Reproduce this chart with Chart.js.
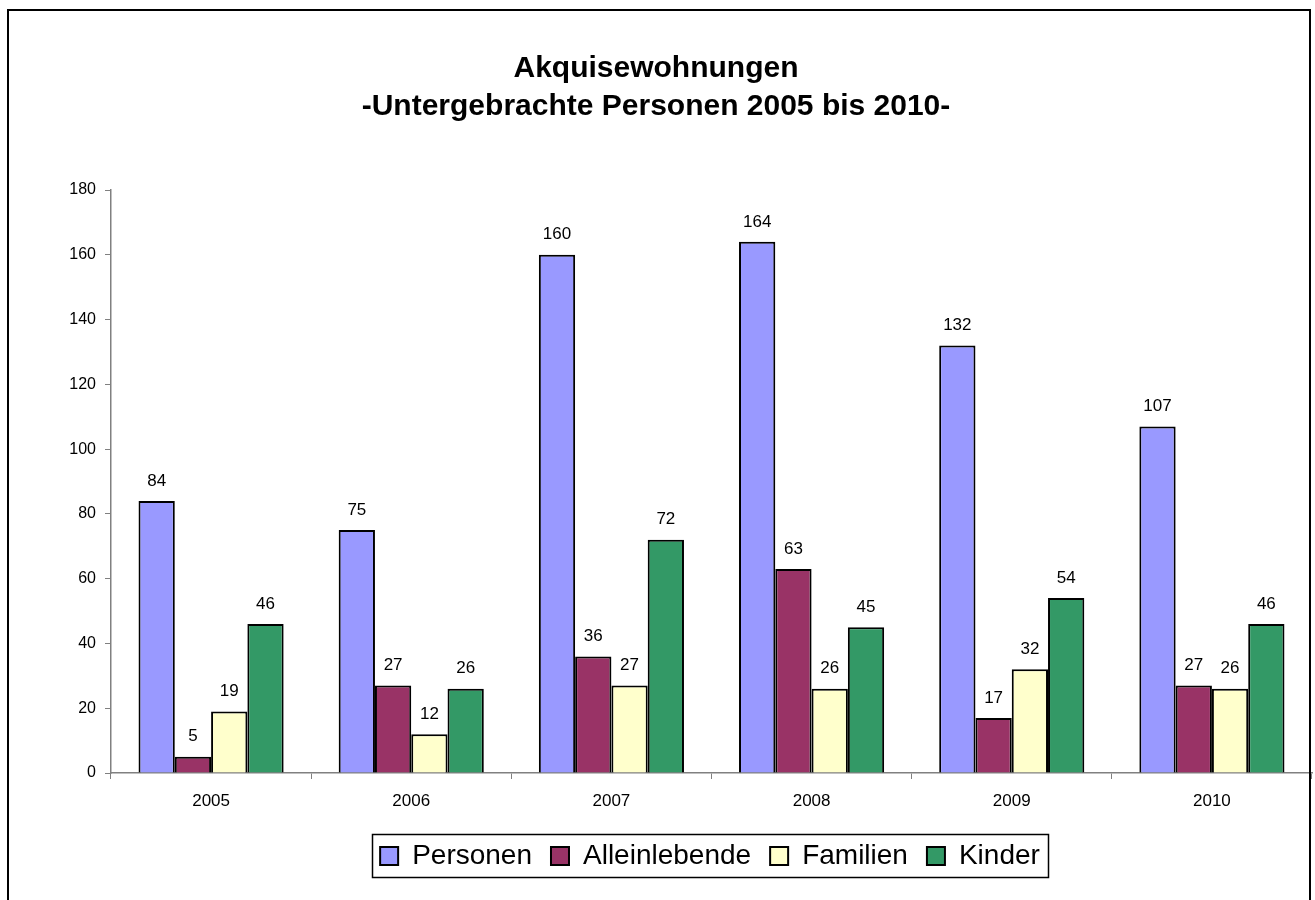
<!DOCTYPE html>
<html>
<head>
<meta charset="utf-8">
<script src="https://cdn.jsdelivr.net/npm/chart.js@4.4.0/dist/chart.umd.min.js"></script>
<style>
  html, body { margin: 0; padding: 0; background: #fff; }
  #wrap { position: relative; width: 1315px; height: 900px; }
</style>
</head>
<body>
<div id="wrap"><canvas id="chart" width="1315" height="900"></canvas></div>
<script>
// Chart data
const years = ["2005", "2006", "2007", "2008", "2009", "2010"];
const personen = [84, 75, 160, 164, 132, 107];
const alleinlebende = [5, 27, 36, 63, 17, 27];
const familien = [19, 12, 27, 26, 32, 26];
const kinder = [46, 26, 72, 45, 54, 46];
const yTicks = [0, 20, 40, 60, 80, 100, 120, 140, 160, 180];

const FONT = "'Liberation Sans', Arial, sans-serif";
const LEGEND_PAD = 19;
const LEGEND_SHIFT = 54;

/**
 * Draws the outer frame around the whole chart
 */
const framePlugin = {
  id: "frame",
  afterDraw(chart) {
    const ctx = chart.ctx;
    ctx.save();
    ctx.strokeStyle = "#000";
    ctx.lineWidth = 2;
    ctx.strokeRect(8, 10, 1302, 900);
    ctx.restore();
  },
};

/**
 * Draws the value above every bar
 */
const valueLabels = {
  id: "valueLabels",
  afterDatasetsDraw(chart) {
    const ctx = chart.ctx;
    ctx.save();
    ctx.font = "17px " + FONT;
    ctx.fillStyle = "#000";
    ctx.textAlign = "center";
    ctx.textBaseline = "middle";
    chart.data.datasets.forEach((ds, i) => {
      chart.getDatasetMeta(i).data.forEach((bar, j) => {
        ctx.fillText(ds.data[j], bar.x, bar.y - 20);
      });
    });
    ctx.restore();
  },
};

/**
 * Moves the legend a little to the right (as in the original)
 * and draws a box around its items
 */
const legendBox = {
  id: "legendBox",
  afterLayout(chart) {
    const legend = chart.legend;
    if (!legend) return;
    legend.left += LEGEND_SHIFT;
    legend.right += LEGEND_SHIFT;
  },
  afterDraw(chart) {
    const legend = chart.legend;
    if (!legend || !legend.lineWidths) return;
    const rowWidth = legend.lineWidths[0] - LEGEND_PAD;
    const cx = (legend.left + legend.right) / 2;
    const cy = legend.top + LEGEND_PAD + 14;
    const ctx = chart.ctx;
    ctx.save();
    ctx.strokeStyle = "#000";
    ctx.lineWidth = 1.5;
    ctx.strokeRect(
      Math.round(cx - rowWidth / 2 - 8) + 0.5,
      Math.round(cy - 22) + 0.5,
      Math.round(rowWidth + 16),
      43
    );
    ctx.restore();
  },
};

function series(label, data, color) {
  return {
    label: label,
    data: data,
    backgroundColor: color,
    borderColor: "#000",
    borderWidth: 2,
    borderSkipped: "bottom",
    categoryPercentage: 0.725,
    barPercentage: 1,
  };
}

new Chart(document.getElementById("chart"), {
  type: "bar",
  data: {
    labels: years,
    datasets: [
      series("Personen", personen, "#9999FF"),
      series("Alleinlebende", alleinlebende, "#993366"),
      series("Familien", familien, "#FFFFCC"),
      series("Kinder", kinder, "#339966"),
    ],
  },
  options: {
    responsive: false,
    animation: false,
    layout: {
      padding: { left: 0, right: 3, top: 0, bottom: 20 },
    },
    plugins: {
      title: {
        display: true,
        text: ["Akquisewohnungen", "-Untergebrachte Personen 2005 bis 2010-"],
        color: "#000",
        font: { family: FONT, size: 30, weight: "bold", lineHeight: 1.267 },
        padding: { top: 50, bottom: 64 },
      },
      legend: {
        position: "bottom",
        labels: {
          color: "#000",
          font: { family: FONT, size: 28 },
          boxWidth: 18,
          boxHeight: 18,
          padding: LEGEND_PAD,
        },
      },
      tooltip: { enabled: false },
    },
    scales: {
      x: {
        grid: {
          display: true,
          drawOnChartArea: false,
          tickLength: 6,
          color: "#808080",
          offset: true,
        },
        border: { color: "#808080", width: 1.5 },
        ticks: {
          color: "#000",
          font: { family: FONT, size: 17 },
          padding: 12,
          maxRotation: 0,
        },
        afterFit(scale) {
          scale.height = 50;
        },
      },
      y: {
        min: 0,
        max: 180,
        afterBuildTicks(scale) {
          scale.ticks = yTicks.map((v) => ({ value: v }));
        },
        grid: {
          display: true,
          drawOnChartArea: false,
          tickLength: 6,
          color: "#808080",
        },
        border: { color: "#808080", width: 1.5 },
        ticks: {
          color: "#000",
          font: { family: FONT, size: 16 },
          padding: 9,
        },
        afterFit(scale) {
          scale.width = 111;
        },
      },
    },
  },
  plugins: [framePlugin, valueLabels, legendBox],
});
</script>
</body>
</html>
